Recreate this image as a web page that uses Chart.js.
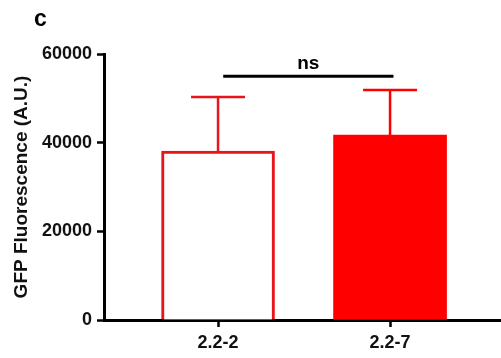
<!DOCTYPE html>
<html lang="en">
<head>
    <meta charset="UTF-8">
    <title>GFP Fluorescence</title>
    <script src="https://cdn.jsdelivr.net/npm/chart.js@4.4.1/dist/chart.umd.min.js"></script>
    <style>
        html, body { margin: 0; padding: 0; background: #fff; }
        .container { width: 501px; height: 358px; }
    </style>
</head>
<body>
<div class="container">
    <canvas id="myChart" width="501" height="358"></canvas>
</div>
<script>
// data
var categories = ['2.2-2', '2.2-7'];
var means = [38100, 41700];
var errTop = [50300, 51900];
var yTicks = [0, 20000, 40000, 60000];
var bracket = [0.03, 1.02, 55000]; // x from, x to, y
var bracketLabel = 'ns';

var red = '#ff0000';
var darkRed = '#e8141c';
var fontFam = '"Liberation Sans", Arial, sans-serif';

var barData = categories.map(function (c, i) { return { x: i, y: means[i] }; });

var extras = {
    id: 'extras',
    afterDatasetsDraw: function (chart) {
        var ctx = chart.ctx;
        var xs = chart.scales.x, ys = chart.scales.y;
        ctx.save();
        // error bars (upper only)
        for (var i = 0; i < means.length; i++) {
            var px = xs.getPixelForValue(i);
            var yTop = ys.getPixelForValue(errTop[i]);
            var yBar = ys.getPixelForValue(means[i]);
            ctx.strokeStyle = i === 0 ? darkRed : red;
            ctx.lineWidth = 2.5;
            ctx.beginPath();
            ctx.moveTo(px, yBar);
            ctx.lineTo(px, yTop);
            ctx.moveTo(px - 27, yTop);
            ctx.lineTo(px + 27, yTop);
            ctx.stroke();
        }
        // significance bracket
        var by = ys.getPixelForValue(bracket[2]);
        ctx.strokeStyle = '#000';
        ctx.lineWidth = 3;
        ctx.beginPath();
        ctx.moveTo(xs.getPixelForValue(bracket[0]), by);
        ctx.lineTo(xs.getPixelForValue(bracket[1]), by);
        ctx.stroke();
        ctx.fillStyle = '#000';
        ctx.font = 'bold 19px ' + fontFam;
        ctx.textAlign = 'center';
        ctx.textBaseline = 'alphabetic';
        ctx.fillText(bracketLabel, (xs.getPixelForValue(bracket[0]) + xs.getPixelForValue(bracket[1])) / 2, by - 7);
        // panel letter
        ctx.font = 'bold 23px ' + fontFam;
        ctx.textAlign = 'left';
        ctx.fillText('c', 34, 26);
        ctx.restore();
    }
};

var myChart = new Chart(document.getElementById('myChart'), {
    type: 'bar',
    data: {
        datasets: [{
            data: barData,
            backgroundColor: ['#ffffff', red],
            borderColor: [darkRed, red],
            borderWidth: [3, 0],
            borderSkipped: 'bottom',
            barThickness: 113
        }]
    },
    options: {
        responsive: false,
        animation: false,
        events: [],
        layout: { padding: { top: 54, right: 0, bottom: 0, left: 0 } },
        plugins: {
            legend: { display: false },
            tooltip: { enabled: false }
        },
        scales: {
            x: {
                type: 'linear',
                offset: false,
                min: -0.663,
                max: 1.645,
                afterBuildTicks: function (scale) {
                    scale.ticks = categories.map(function (c, i) { return { value: i }; });
                },
                afterFit: function (scale) { scale.height = 38; },
                grid: { offset: false, drawOnChartArea: false, drawTicks: true, tickLength: 7, tickColor: '#000', tickWidth: 2.5 },
                border: { display: true, color: '#000', width: 3 },
                ticks: {
                    color: '#111',
                    padding: 5,
                    maxRotation: 0,
                    font: { family: fontFam, size: 18, weight: 'bold' },
                    callback: function (v) { return categories[v]; }
                }
            },
            y: {
                min: 0,
                max: 60000,
                afterBuildTicks: function (scale) {
                    scale.ticks = yTicks.map(function (v) { return { value: v }; });
                },
                afterFit: function (scale) { scale.width = 104; },
                grid: { drawOnChartArea: false, drawTicks: true, tickLength: 7, tickColor: '#000', tickWidth: 2.5 },
                border: { display: true, color: '#000', width: 3 },
                ticks: {
                    color: '#111',
                    padding: 5,
                    font: { family: fontFam, size: 18, weight: 'bold' },
                    callback: function (v) { return String(v); }
                },
                title: {
                    display: true,
                    text: 'GFP Fluorescence (A.U.)',
                    color: '#111',
                    padding: { top: 10, bottom: 0 },
                    font: { family: fontFam, size: 19, weight: 'bold' }
                }
            }
        }
    },
    plugins: [extras]
});
</script>
</body>
</html>
